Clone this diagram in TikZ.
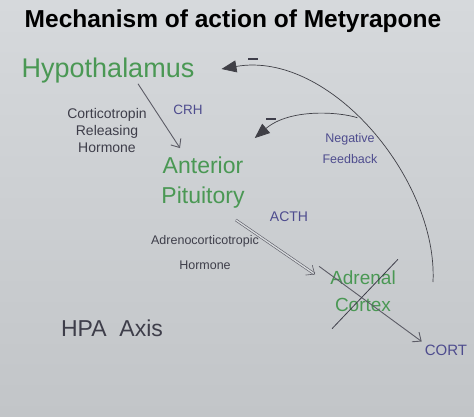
\documentclass[tikz,border=0pt]{standalone}
\usepackage{fontspec}
\setmainfont{Liberation Sans}
\usepackage{tikz}
\usetikzlibrary{positioning}
\usetikzlibrary{calc}
\usetikzlibrary{arrows.meta}
\definecolor{paperlight}{RGB}{214,217,220}
\definecolor{paperdark}{RGB}{194,197,200}
\definecolor{handgreen}{RGB}{74,152,84}
\definecolor{inkblue}{RGB}{78,76,142}
\definecolor{inkdark}{RGB}{62,62,74}
\definecolor{pengray}{RGB}{92,92,102}

\begin{document}
\begin{tikzpicture}[x=1pt, y=-1pt, every node/.style={inner sep=0pt, align=center},
    gland/.style={text=handgreen},
    hormone/.style={text=inkblue, font=\fontsize{13.5}{17}\selectfont},
    note/.style={text=inkdark, font=\fontsize{13}{17}\selectfont},
    flow/.style={draw=pengray, line width=0.9pt, -{Straight Barb[length=7pt,width=12pt]}},
    feedback/.style={draw=pengray!70!black, line width=0.7pt, -{Triangle[length=15pt,width=12pt]}}]
    \useasboundingbox (0,0) rectangle (474,416);
    \shade[top color=paperlight, bottom color=paperdark] (0,0) rectangle (474,416);

    \node (title) at (233,21) {\fontsize{24.5}{28}\selectfont\bfseries Mechanism of action of Metyrapone};

    % glands
    \node[gland, font=\fontsize{27}{30}\selectfont] (hypo) at (108,71) {Hypothalamus};
    \node[gland, font=\fontsize{23}{30}\selectfont] (ant) at (203,183) {Anterior\\Pituitory};
    \node[gland, font=\fontsize{19}{27}\selectfont] (adr) at (363,291) {Adrenal\\Cortex};

    % hormones and notes
    \node[note, font=\fontsize{14}{17}\selectfont] (crf) at (107,130) {Corticotropin\\Releasing\\Hormone};
    \node[hormone] (crh) at (188,110) {CRH};
    \node[hormone, font=\fontsize{14}{17}\selectfont] (acth) at (289,217) {ACTH};
    \node[note, font=\fontsize{12.5}{25}\selectfont] (acthfull) at (205,253) {Adrenocorticotropic\\Hormone};
    \node[hormone, font=\fontsize{12.5}{21}\selectfont] (neg) at (350,149) {Negative\\Feedback};
    \node[hormone, font=\fontsize{15}{17}\selectfont] (cort) at (446,350) {CORT};
    \node[text=inkdark, font=\fontsize{23}{28}\selectfont] (hpa) at (112,328) {HPA\ \ Axis};
    \foreach \m/\x/\y in {minusa/253/59, minusb/271/119}
      \node[text=inkdark] (\m) at (\x,\y) {\rule{10pt}{1.8pt}};

    % axis
    \draw[flow] ($(hypo.south)+(30,0)$) -- ($(ant.north)+(-23,-9)$);
    \draw[flow, double=paperlight, double distance=1.4pt, line width=0.6pt] ($(ant.south east)+(-9,11)$) -- ($(adr.north west)+(-15,4)$);
    \draw[flow] ($(adr.north west)+(-11,-4)$) -- ($(cort.north west)+(-3,-3)$);
    \draw[draw=inkdark, line width=0.8pt] ($(adr.north east)+(2,-11)$) -- ($(adr.south west)+(2,17)$);

    % feedback loops
    \coordinate (fbstart) at (433,282);
    \draw[feedback] (fbstart) .. controls (438,180) and (330,50) .. coordinate[pos=0.55] (branch) ($(hypo.east)+(27,-2)$);
    \draw[feedback] (branch) .. controls (340,112) and (290,108) .. ($(ant.north east)+(10,-19)$);
\end{tikzpicture}
\end{document}
